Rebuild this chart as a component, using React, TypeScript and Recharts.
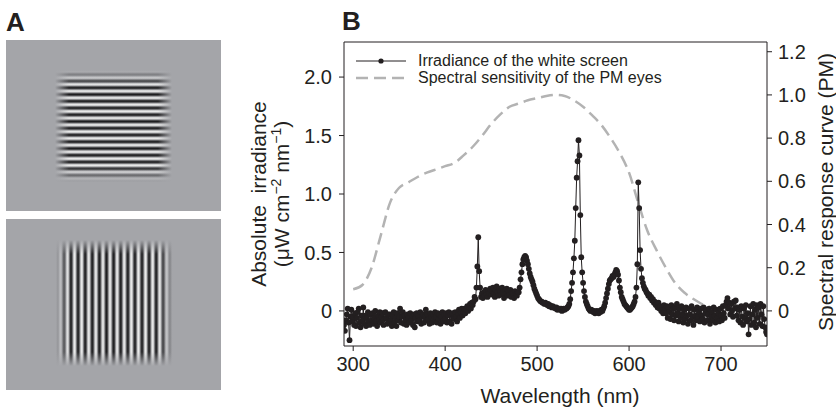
import {
  Legend,
  Line,
  LineChart,
  ReferenceLine,
  XAxis,
  YAxis,
} from "recharts";

const FONT = '"Liberation Sans", Arial, Helvetica, sans-serif';
const INK = "#231f20";
const DASH_GRAY = "#b3b3b3";
const PANEL_GRAY = "#a4a5a9";

// irradiance of the white screen, 1 nm steps starting at 290 nm (µW cm-2 nm-1)
const IRR_START = 290;
const IRRADIANCE = [
  -0.12, -0.17, -0.08, -0.03, 0.02, -0.1, -0.25, -0.05, 0.01, -0.09,
  -0.05, -0.12, -0.02, -0.13, -0.06, -0.01, 0.02, -0.1, -0.14, -0.04,
  -0.08, 0.03, -0.11, -0.04, -0.13, -0.06, -0.01, -0.09, -0.12, -0.03,
  -0.08, -0.02, -0.11, -0.06, 0.0, -0.09, -0.13, -0.04, -0.08, -0.01,
  -0.1, -0.05, -0.02, -0.12, -0.07, -0.01, -0.06, -0.11, -0.03, -0.09,
  -0.03, -0.08, -0.13, -0.04, -0.01, -0.1, -0.06, -0.13, -0.02, -0.08,
  -0.05, 0.02, -0.1, -0.05, -0.01, -0.11, -0.04, -0.08, -0.12, -0.03,
  -0.06, -0.1, -0.02, -0.08, -0.04, -0.12, -0.03, -0.14, -0.06, -0.02,
  -0.09, -0.04, -0.08, -0.01, -0.11, -0.05, -0.03, -0.1, -0.05, 0.01,
  -0.08, -0.03, -0.07, -0.11, -0.02, -0.05, -0.1, -0.03, -0.07, -0.01,
  -0.05, -0.1, -0.02, -0.07, -0.03, -0.11, -0.05, -0.01, -0.09, -0.03,
  -0.07, -0.02, -0.1, -0.04, -0.01, -0.09, -0.03, -0.11, -0.02, -0.06,
  -0.07, -0.01, -0.05, -0.09, -0.02, 0.01, -0.06, -0.01, 0.02, -0.04,
  -0.01, 0.02, -0.02, 0.01, 0.04, 0.0, 0.03, 0.06, 0.02, 0.07,
  0.05, 0.08, 0.12, 0.1, 0.2, 0.38, 0.63, 0.34, 0.2, 0.12,
  0.15, 0.11, 0.16, 0.13, 0.18, 0.14, 0.12, 0.17, 0.15, 0.19,
  0.14, 0.17, 0.2, 0.15, 0.12, 0.18, 0.21, 0.16, 0.13, 0.19,
  0.17, 0.14, 0.2, 0.16, 0.11, 0.18, 0.15, 0.19, 0.13, 0.17,
  0.14, 0.18, 0.12, 0.16, 0.15, 0.11, 0.17, 0.14, 0.13, 0.16,
  0.16, 0.2, 0.27, 0.33, 0.4, 0.44, 0.46, 0.47, 0.46, 0.43,
  0.4, 0.36, 0.32, 0.29, 0.27, 0.25, 0.22, 0.19, 0.17, 0.15,
  0.13, 0.11, 0.1, 0.09, 0.08, 0.08, 0.07, 0.07, 0.06, 0.07,
  0.06, 0.05, 0.06, 0.04, 0.05, 0.04, 0.03, 0.04, 0.03, 0.03,
  0.02, 0.03, 0.01, 0.02, 0.02, 0.01, 0.02, 0.0, 0.01, 0.02,
  0.01, 0.02, 0.02, 0.03, 0.04, 0.06, 0.1, 0.17, 0.24, 0.33,
  0.45, 0.6, 0.88, 1.14, 1.28, 1.46, 1.33, 0.82, 0.46, 0.33,
  0.24, 0.17, 0.12, 0.08, 0.06, 0.04, 0.02, 0.01, 0.0, 0.01,
  0.0, -0.01, 0.0, -0.02, -0.01, 0.0, -0.01, -0.02, 0.0, -0.01,
  0.01, 0.0, 0.02, 0.04, 0.07, 0.11, 0.15, 0.19, 0.23, 0.26,
  0.27, 0.28, 0.3, 0.29, 0.31, 0.33, 0.35, 0.34, 0.31, 0.26,
  0.2, 0.16, 0.12, 0.1, 0.08, 0.06, 0.05, 0.04, 0.03, 0.02,
  0.01, 0.01, 0.02, 0.03, 0.04, 0.06, 0.08, 0.12, 0.2, 0.4,
  1.1, 0.88, 0.52, 0.36, 0.28, 0.24, 0.21, 0.19, 0.18, 0.16,
  0.15, 0.13, 0.14, 0.11, 0.12, 0.09, 0.1, 0.07, 0.08, 0.05,
  0.06, 0.03, 0.07, 0.02, 0.04, 0.0, 0.03, -0.02, 0.05, 0.01,
  -0.02, 0.04, -0.06, 0.03, -0.01, -0.07, 0.05, -0.03, 0.02, -0.08,
  0.03, -0.04, 0.06, -0.02, -0.09, 0.02, -0.06, 0.04, -0.03, -0.1,
  0.01, -0.07, 0.03, -0.04, -0.11, 0.02, -0.03, -0.08, 0.04, -0.05,
  -0.12, 0.01, -0.04, -0.08, 0.03, -0.05, -0.01, -0.09, 0.02, -0.04,
  -0.07, 0.03, -0.1, -0.02, 0.01, -0.08, -0.03, 0.02, -0.11, -0.05,
  -0.01, -0.08, 0.03, -0.04, -0.1, 0.01, -0.06, -0.02, -0.09, 0.02,
  -0.04, -0.08, 0.04, -0.02, -0.06, 0.05, 0.08, 0.11, 0.02, 0.07,
  -0.03, 0.06, 0.0, -0.05, 0.08, 0.02, 0.09, -0.04, 0.03, -0.08,
  0.01, -0.1, 0.04, -0.05, -0.12, 0.02, -0.06, 0.05, -0.09, -0.02,
  -0.2, -0.07, 0.04, -0.12, -0.03, 0.06, -0.1, 0.01, -0.14, 0.05,
  -0.06, 0.03, -0.11, 0.06, -0.03, -0.13, 0.04, -0.07, -0.14, -0.18,
  -0.2,
];

// spectral sensitivity of the PM eyes (right axis)
const SENS_WL = [
  300, 310, 320, 330, 340, 350, 360, 370, 380, 390, 400, 410, 420, 430,
  440, 450, 460, 470, 480, 490, 500, 510, 520, 530, 540, 550, 560, 570,
  580, 590, 600, 610, 620, 630, 640, 650, 660, 670, 680, 690, 700, 705,
];
const SENS_VAL = [
  0.1, 0.12, 0.2, 0.35, 0.5, 0.57, 0.595, 0.62, 0.64, 0.655, 0.67, 0.685,
  0.72, 0.76, 0.81, 0.865, 0.91, 0.945, 0.96, 0.975, 0.985, 0.995, 1.0,
  0.995, 0.975, 0.945, 0.905, 0.86, 0.8, 0.73, 0.64, 0.5, 0.37, 0.28, 0.2,
  0.13, 0.085, 0.055, 0.03, 0.015, 0.005, 0.0,
];

const X_TICKS = [300, 400, 500, 600, 700];
const LEFT_TICKS = [0, 0.5, 1, 1.5, 2];
const RIGHT_TICKS = [0, 0.2, 0.4, 0.6, 0.8, 1, 1.2];

const SERIES_NAMES = {
  irr: "Irradiance of the white screen",
  sens: "Spectral sensitivity of the PM eyes",
};

const irrData = IRRADIANCE.map((v, i) => ({ wl: IRR_START + i, irr: v }));
const sensData = SENS_WL.map((wl, i) => ({ wl, sens: SENS_VAL[i] }));

const fmt = (v: number) => (v === 0 ? "0" : v.toFixed(1));

const GRATING_STOPS: [number, string][] = [
  [0, "#1e1e20"],
  [0.125, "#3c3c3e"],
  [0.25, "#858588"],
  [0.375, "#cecfd0"],
  [0.5, "#ececec"],
  [0.625, "#cecfd0"],
  [0.75, "#858588"],
  [0.875, "#3c3c3e"],
  [1, "#1e1e20"],
];

const tickStyle = { fontSize: 20, fill: INK, fontFamily: FONT };

const renderLegend = (props: any) => {
  const items = [...(props.payload || [])].sort((a: any) =>
    a.dataKey === "irr" ? -1 : 1
  );
  return (
    <div style={{ fontFamily: FONT, fontSize: 16, color: INK }}>
      {items.map((entry: any) => (
        <div
          key={entry.dataKey}
          style={{ display: "flex", alignItems: "center", height: 17.6 }}
        >
          <svg width={52} height={12}>
            {entry.dataKey === "irr" ? (
              <>
                <line x1={1} x2={51} y1={6} y2={6} stroke={INK} strokeWidth={1} />
                <circle cx={26} cy={6} r={2.6} fill={INK} />
              </>
            ) : (
              <line
                x1={1}
                x2={51}
                y1={6}
                y2={6}
                stroke={DASH_GRAY}
                strokeWidth={2.5}
                strokeDasharray="12 6"
              />
            )}
          </svg>
          <span style={{ marginLeft: 11, whiteSpace: "nowrap" }}>{entry.value}</span>
        </div>
      ))}
    </div>
  );
};

const LeftTitle = () => (
  <g fontFamily={FONT} fontSize={21} fill={INK}>
    <text
      x={266}
      y={194}
      transform="rotate(-90 266 194)"
      textAnchor="middle"
      style={{ whiteSpace: "pre" }}
    >
      Absolute  irradiance
    </text>
    <text x={289} y={194} transform="rotate(-90 289 194)" textAnchor="middle">
      (μW cm
      <tspan dy={-8} fontSize={14}>
        −2
      </tspan>
      <tspan dy={8}> nm</tspan>
      <tspan dy={-8} fontSize={14}>
        −1
      </tspan>
      <tspan dy={8}>)</tspan>
    </text>
  </g>
);

const RightTitle = () => (
  <text
    x={833}
    y={192}
    transform="rotate(-90 833 192)"
    textAnchor="middle"
    fontFamily={FONT}
    fontSize={21}
    fill={INK}
  >
    Spectral response curve (PM)
  </text>
);

const BottomTitle = () => (
  <text x={560} y={403} textAnchor="middle" fontFamily={FONT} fontSize={21} fill={INK}>
    Wavelength (nm)
  </text>
);

const Grating = ({ id, x, y, w, h, vertical }: any) => (
  <g>
    <rect x={x} y={y} width={w} height={h} fill={`url(#${id})`} />
    <rect x={x} y={y} width={14} height={h} fill="url(#fadeL)" />
    <rect x={x + w - 14} y={y} width={14} height={h} fill="url(#fadeR)" />
    <rect x={x} y={y} width={w} height={vertical ? 14 : 16} fill="url(#fadeT)" />
    <rect
      x={x}
      y={y + h - (vertical ? 14 : 16)}
      width={w}
      height={vertical ? 14 : 16}
      fill="url(#fadeB)"
    />
  </g>
);

const PanelA = () => (
  <svg width={230} height={410} style={{ position: "absolute", left: 0, top: 0 }}>
    <defs>
      <linearGradient
        id="gH"
        gradientUnits="userSpaceOnUse"
        x1={0}
        y1={0}
        x2={0}
        y2={6.75}
        spreadMethod="repeat"
      >
        {GRATING_STOPS.map(([o, c]) => (
          <stop key={o} offset={o} stopColor={c} />
        ))}
      </linearGradient>
      <linearGradient
        id="gV"
        gradientUnits="userSpaceOnUse"
        x1={0}
        y1={0}
        x2={7.1}
        y2={0}
        spreadMethod="repeat"
      >
        {GRATING_STOPS.map(([o, c]) => (
          <stop key={o} offset={o} stopColor={c} />
        ))}
      </linearGradient>
      <linearGradient id="fadeL" x1={0} y1={0} x2={1} y2={0}>
        <stop offset={0} stopColor={PANEL_GRAY} stopOpacity={1} />
        <stop offset={1} stopColor={PANEL_GRAY} stopOpacity={0} />
      </linearGradient>
      <linearGradient id="fadeR" x1={1} y1={0} x2={0} y2={0}>
        <stop offset={0} stopColor={PANEL_GRAY} stopOpacity={1} />
        <stop offset={1} stopColor={PANEL_GRAY} stopOpacity={0} />
      </linearGradient>
      <linearGradient id="fadeT" x1={0} y1={0} x2={0} y2={1}>
        <stop offset={0} stopColor={PANEL_GRAY} stopOpacity={1} />
        <stop offset={1} stopColor={PANEL_GRAY} stopOpacity={0} />
      </linearGradient>
      <linearGradient id="fadeB" x1={0} y1={1} x2={0} y2={0}>
        <stop offset={0} stopColor={PANEL_GRAY} stopOpacity={1} />
        <stop offset={1} stopColor={PANEL_GRAY} stopOpacity={0} />
      </linearGradient>
    </defs>
    <text x={6} y={31} fontFamily={FONT} fontSize={26} fontWeight="bold" fill={INK}>
      A
    </text>
    <rect x={6} y={40} width={215} height={171} fill={PANEL_GRAY} />
    <Grating id="gH" x={55} y={70} w={117} h={112} />
    <rect x={6} y={219} width={215} height={171} fill={PANEL_GRAY} />
    <Grating id="gV" x={56} y={240} w={117} h={126} vertical />
  </svg>
);

export default function App() {
  return (
    <div
      style={{
        position: "absolute",
        left: 0,
        top: 0,
        width: 836,
        height: 410,
        background: "#fff",
        overflow: "hidden",
      }}
    >
      <PanelA />
      <div style={{ position: "absolute", left: 0, top: 0 }}>
        <LineChart
          width={836}
          height={410}
          margin={{ top: 42, right: 9, bottom: 34, left: 284 }}
        >
          <XAxis
            type="number"
            dataKey="wl"
            domain={[290, 750]}
            ticks={X_TICKS}
            allowDataOverflow
            height={30}
            tickSize={5}
            tickMargin={6}
            tick={tickStyle}
            stroke={INK}
            label={<BottomTitle />}
          />
          <YAxis
            yAxisId="left"
            type="number"
            domain={[-0.3, 2.3]}
            ticks={LEFT_TICKS}
            allowDataOverflow
            tickFormatter={fmt}
            width={60}
            tickSize={5}
            tickMargin={7}
            tick={tickStyle}
            stroke={INK}
            label={<LeftTitle />}
          />
          <YAxis
            yAxisId="right"
            orientation="right"
            type="number"
            domain={[-0.1625, 1.245]}
            ticks={RIGHT_TICKS}
            allowDataOverflow
            tickFormatter={fmt}
            width={60}
            tickSize={5}
            tickMargin={6}
            tick={tickStyle}
            stroke={INK}
            label={<RightTitle />}
          />
          <ReferenceLine yAxisId="left" y={2.3} stroke={INK} strokeWidth={1} />
          <Line
            data={sensData}
            dataKey="sens"
            name={SERIES_NAMES.sens}
            yAxisId="right"
            type="monotone"
            stroke={DASH_GRAY}
            strokeWidth={2.5}
            strokeDasharray="12 6"
            dot={false}
            isAnimationActive={false}
          />
          <Line
            data={irrData}
            dataKey="irr"
            name={SERIES_NAMES.irr}
            yAxisId="left"
            type="linear"
            stroke={INK}
            strokeWidth={1}
            dot={{ r: 2.9, fill: INK, stroke: INK, strokeWidth: 0 }}
            isAnimationActive={false}
          />
          <Legend
            layout="horizontal"
            verticalAlign="middle"
            align="center"
            content={renderLegend}
            wrapperStyle={{ left: 355, top: 52, width: 330, height: 36 }}
          />
        </LineChart>
      </div>
      <div
        style={{
          position: "absolute",
          left: 342,
          top: 6,
          fontFamily: FONT,
          fontSize: 26,
          fontWeight: "bold",
          color: INK,
          lineHeight: "30px",
        }}
      >
        B
      </div>
    </div>
  );
}
